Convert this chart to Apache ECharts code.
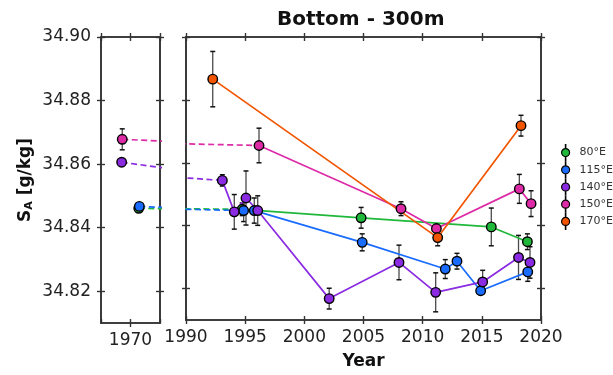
<!DOCTYPE html>
<html>
<head>
<meta charset="utf-8">
<script src="https://cdn.jsdelivr.net/npm/echarts@6/dist/echarts.min.js"></script>
<style>
  html, body { margin: 0; padding: 0; background: #fff; }
  #chart { width: 613px; height: 375px; }
</style>
</head>
<body>
<div id="chart"></div>
<script>
// 站点名称
const names = ["80°E", "115°E", "140°E", "150°E", "170°E"];

// 早期观测 (左侧小图)
const histYear80 = 1971.4, histVal80 = 34.8461;
const histYear115 = 1971.5, histVal115 = 34.8467;
const histYear140 = 1968.5, histVal140 = 34.8606;
const histYear150 = 1968.6, histVal150 = 34.8678, histErr150 = 0.0033;

// 1990 年以后
const year80 = [1994.75, 2004.8, 2015.8, 2018.85];
const val80 = [34.8452, 34.8425, 34.8396, 34.8349];
const err80 = [0.002, 0.0033, 0.006, 0.0025];

const year115 = [1994.87, 1995.77, 2004.89, 2011.91, 2012.9, 2014.9, 2018.88];
const val115 = [34.8448, 34.8448, 34.8347, 34.8262, 34.8287, 34.8193, 34.8253];
const err115 = [0.0035, 0.004, 0.0027, 0.003, 0.0025, 0.001, 0.003];

const year140 = [1993.07, 1994.08, 1995.07, 1996.06, 2002.1, 2008.0, 2011.1, 2015.07, 2018.1, 2019.07];
const val140 = [34.8544, 34.8444, 34.8488, 34.8448, 34.8168, 34.8283, 34.8188, 34.8221, 34.8299, 34.8283];
const err140 = [0.0018, 0.0055, 0.0086, 0.0047, 0.0033, 0.0055, 0.0062, 0.0037, 0.007, 0.005];

const year150 = [1996.17, 2008.17, 2011.16, 2018.17, 2019.16];
const val150 = [34.8655, 34.8454, 34.8391, 34.8517, 34.847];
const err150 = [0.0055, 0.0022, 0.0008, 0.0046, 0.0041];

const year170 = [1992.26, 2011.27, 2018.31];
const val170 = [34.8866, 34.8362, 34.8718];
const err170 = [0.0088, 0.0026, 0.0033];

// 刻度
const yTicks = [34.82, 34.84, 34.86, 34.88, 34.9];
const xTicksLeft = [1970];

const colors = ["#1fb83a", "#1a6cff", "#8a2be2", "#dd2aa6", "#f25500"];
const font = "DejaVu Sans";

// 图例图标: 圆点 + 误差棒
const legendIcon = "path://M4.8,0 L5.2,0 L5.2,4 L4.8,4 Z M4.8,12 L5.2,12 L5.2,16 L4.8,16 Z " +
  "M1,8 A4,4 0 1,0 9,8 A4,4 0 1,0 1,8 Z";

const chart = echarts.init(document.getElementById("chart"), null, { renderer: "canvas" });

// 每个 grid 四条边, 每条边内外两套刻度
function makeX(g, min, max, showLabel, extra) {
  const base = {
    gridIndex: g, type: "value", min: min, max: max, interval: 5,
    splitLine: { show: false },
    axisLine: { show: true, onZero: false, lineStyle: { color: "#333", width: 1.6 } },
  };
  const lab = {
    show: true, fontSize: 17, color: "#222", fontFamily: font, margin: 9,
    formatter: (v) => (showLabel(v) ? String(v) : ""),
    showMinLabel: showLabel(min), showMaxLabel: showLabel(max),
  };
  const tick = (inside) => ({ show: true, inside: inside, length: 4, lineStyle: { color: "#333", width: 1.4 } });
  return [
    Object.assign({}, base, { position: "bottom", axisTick: tick(false), axisLabel: lab }, extra || {}),
    Object.assign({}, base, { position: "bottom", axisTick: tick(true), axisLabel: { show: false } }),
    Object.assign({}, base, { position: "top", axisTick: tick(false), axisLabel: { show: false } }),
    Object.assign({}, base, { position: "top", axisTick: tick(true), axisLabel: { show: false } }),
  ];
}

function makeY(g, showLabel, extra) {
  const base = {
    gridIndex: g, type: "value", min: 34.81, max: 34.9,
    splitLine: { show: false },
    axisLine: { show: true, onZero: false, lineStyle: { color: "#333", width: 1.6 } },
  };
  const tick = (inside) => ({
    show: true, inside: inside, length: 4, customValues: yTicks,
    lineStyle: { color: "#333", width: 1.4 },
  });
  const lab = {
    show: showLabel, customValues: yTicks, fontSize: 17, color: "#222", fontFamily: font, margin: 10,
    formatter: (v) => v.toFixed(2),
  };
  return [
    Object.assign({}, base, { position: "left", axisTick: tick(false), axisLabel: lab }, extra || {}),
    Object.assign({}, base, { position: "left", axisTick: tick(true), axisLabel: { show: false } }),
    Object.assign({}, base, { position: "right", axisTick: tick(false), axisLabel: { show: false } }),
    Object.assign({}, base, { position: "right", axisTick: tick(true), axisLabel: { show: false } }),
  ];
}

const xAxes = [
  ...makeX(0, 1965, 1975, (v) => xTicksLeft.includes(v)),
  ...makeX(1, 1990, 2020, () => true, {
    name: "Year", nameLocation: "middle", nameGap: 33,
    nameTextStyle: { fontSize: 17, fontWeight: "bold", color: "#111", fontFamily: font },
  }),
];
const yAxes = [
  ...makeY(0, true, {
    name: "{s|S}{sub|A}{s| [g/kg]}", nameLocation: "middle", nameGap: 66, nameRotate: 90,
    nameTextStyle: {
      fontFamily: font, color: "#111",
      rich: {
        s: { fontSize: 17, fontWeight: "bold", fontFamily: font, color: "#111" },
        sub: { fontSize: 11, fontWeight: "bold", fontFamily: font, color: "#111", padding: [7, 0, 0, 0] },
      },
    },
  }),
  ...makeY(1, false),
];

// 误差棒
function renderErr(params, api) {
  const x = api.value(0), v = api.value(1), e = api.value(2);
  const p1 = api.coord([x, v + e]);
  const p2 = api.coord([x, v - e]);
  const w = 2.5;
  return {
    type: "group",
    children: [
      { type: "line", shape: { x1: p1[0], y1: p1[1], x2: p2[0], y2: p2[1] }, style: { stroke: "#4a4a4a", lineWidth: 1.3 } },
      { type: "line", shape: { x1: p1[0] - w, y1: p1[1], x2: p1[0] + w, y2: p1[1] }, style: { stroke: "#111", lineWidth: 1.5 } },
      { type: "line", shape: { x1: p2[0] - w, y1: p2[1], x2: p2[0] + w, y2: p2[1] }, style: { stroke: "#111", lineWidth: 1.5 } },
    ],
  };
}

const groups = [
  { years: year80, vals: val80, errs: err80, hist: [histYear80, histVal80, 0] },
  { years: year115, vals: val115, errs: err115, hist: [histYear115, histVal115, 0] },
  { years: year140, vals: val140, errs: err140, hist: [histYear140, histVal140, 0] },
  { years: year150, vals: val150, errs: err150, hist: [histYear150, histVal150, histErr150] },
  { years: year170, vals: val170, errs: err170, hist: null },
];

const series = [];
// 先画虚线
groups.forEach((g, i) => {
  if (!g.hist) return;
  const seg = [[g.hist[0], g.hist[1]], [g.years[0], g.vals[0]]];
  [0, 4].forEach((xi, k) => {
    series.push({
      name: names[i] + " dash" + k, type: "line", xAxisIndex: xi, yAxisIndex: xi,
      data: seg, showSymbol: false, symbol: "none", clip: true, silent: true,
      lineStyle: { color: colors[i], width: 1.7, type: [6, 3.5] }, z: 2,
    });
  });
});
groups.forEach((g, i) => {
  const errData = g.years.map((y, j) => [y, g.vals[j], g.errs[j]]);
  series.push({
    name: names[i] + " err", type: "custom", xAxisIndex: 4, yAxisIndex: 4,
    renderItem: renderErr, data: errData, encode: { x: 0, y: 1 }, z: 3, silent: true,
  });
  series.push({
    name: names[i], type: "line", xAxisIndex: 4, yAxisIndex: 4,
    data: g.years.map((y, j) => [y, g.vals[j]]),
    symbol: "circle", symbolSize: 9.5, showAllSymbol: true,
    lineStyle: { color: colors[i], width: 1.7 },
    itemStyle: { color: colors[i], borderColor: "#000", borderWidth: 1.4 },
    z: 4,
  });
  if (g.hist) {
    if (g.hist[2] > 0) {
      series.push({
        name: names[i] + " herr", type: "custom", xAxisIndex: 0, yAxisIndex: 0,
        renderItem: renderErr, data: [g.hist], encode: { x: 0, y: 1 }, z: 3, silent: true,
      });
    }
    series.push({
      name: names[i] + " hist", type: "line", xAxisIndex: 0, yAxisIndex: 0,
      data: [[g.hist[0], g.hist[1]]], symbol: "circle", symbolSize: 9.5,
      itemStyle: { color: colors[i], borderColor: "#000", borderWidth: 1.4 }, z: 4,
    });
  }
});

chart.setOption({
  animation: false,
  backgroundColor: "#fff",
  title: {
    text: "Bottom - 300m", left: 272, top: 5,
    textStyle: { fontSize: 20, fontWeight: "bold", color: "#111", fontFamily: font },
  },
  legend: {
    data: names, orient: "vertical", left: 556, top: 139,
    itemWidth: 10, itemHeight: 16, itemGap: 0, icon: legendIcon,
    itemStyle: { borderWidth: 1.2, borderColor: "#000" },
    textStyle: { fontSize: 11, color: "#333", fontFamily: font, padding: [0, 0, 0, 4] },
  },
  grid: [
    { left: 101, top: 37, width: 59, height: 286 },
    { left: 186, top: 37, width: 355, height: 286 },
  ],
  xAxis: xAxes,
  yAxis: yAxes,
  series: series,
});
</script>
</body>
</html>
